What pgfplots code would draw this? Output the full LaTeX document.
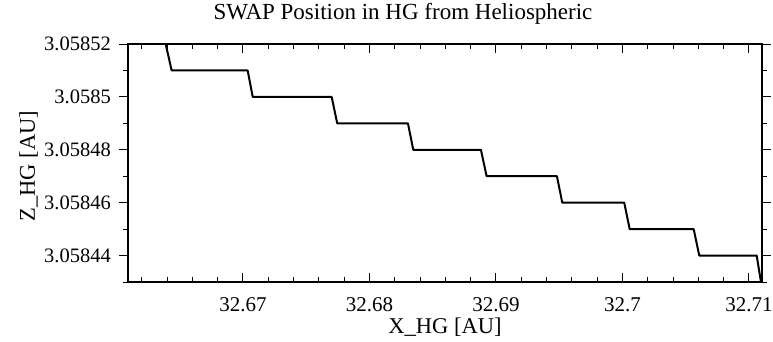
\documentclass[border=0pt]{standalone}
\usepackage{fontspec}
\setmainfont{Liberation Serif}
\usepackage{pgfplots}
\pgfplotsset{compat=1.18}
\begin{document}
\begin{tikzpicture}
% Data stored as offsets for numerical precision:
% X_HG = 32.66 + x/1000 [AU],  Z_HG = 3.05843 + y*1e-5 [AU]
\begin{axis}[
  at={(0,0)}, anchor=south west,
  scale only axis, width=634pt, height=238pt,
  xmin=0.91, xmax=51.03, ymin=0, ymax=9,
  xtick={10,20,30,40,50},
  xticklabels={32.67,32.68,32.69,32.7,32.71},
  minor xtick={2,4,6,8,12,14,16,18,22,24,26,28,32,34,36,38,42,44,46,48},
  ytick={1,3,5,7,9},
  yticklabels={3.05844,3.05846,3.05848,3.0585,3.05852},
  minor ytick={0,2,4,6,8},
  xtick align=inside, ytick align=outside,
  xtick pos=both, ytick pos=both,
  major tick length=9pt, minor tick length=4.5pt,
  tick style={black, line width=1pt},
  axis line style={line width=2pt},
  /pgf/number format/assume math mode=true,
  ticklabel style={inner sep=0pt},
  xticklabel style={anchor=north, yshift=-15pt, font=\fontsize{21}{25}\selectfont},
  yticklabel style={anchor=east, xshift=-8pt, font=\fontsize{20.5}{24}\selectfont},
  title={SWAP Position in HG from Heliospheric},
  title style={at={(axis description cs:0.43375,1.0798)}, anchor=base, yshift=0pt, inner sep=0pt, font=\fontsize{23}{27}\selectfont},
  xlabel={X\_HG [AU]},
  xlabel style={at={(axis description cs:0.5,-0.2164)}, anchor=base, inner sep=0pt, font=\fontsize{22.5}{26}\selectfont},
  ylabel={Z\_HG [AU]},
  ylabel style={at={(axis description cs:-0.1467,0.487)}, anchor=base, inner sep=0pt, font=\fontsize{22.5}{26}\selectfont},
  clip=true,
]
\addplot[black, line width=2pt, line join=round] coordinates {
  (3.89,9) (4.36,8)
  (10.37,8) (10.77,7)
  (17.01,7) (17.45,6)
  (23.04,6) (23.46,5)
  (28.81,5) (29.26,4)
  (34.82,4) (35.24,3)
  (40.14,3) (40.57,2)
  (45.63,2) (46.07,1)
  (50.61,1) (50.95,0)
};
\end{axis}
\pgfresetboundingbox
\path[use as bounding box] (-128pt,-60pt) rectangle (645pt,282pt);
\end{tikzpicture}
\end{document}
